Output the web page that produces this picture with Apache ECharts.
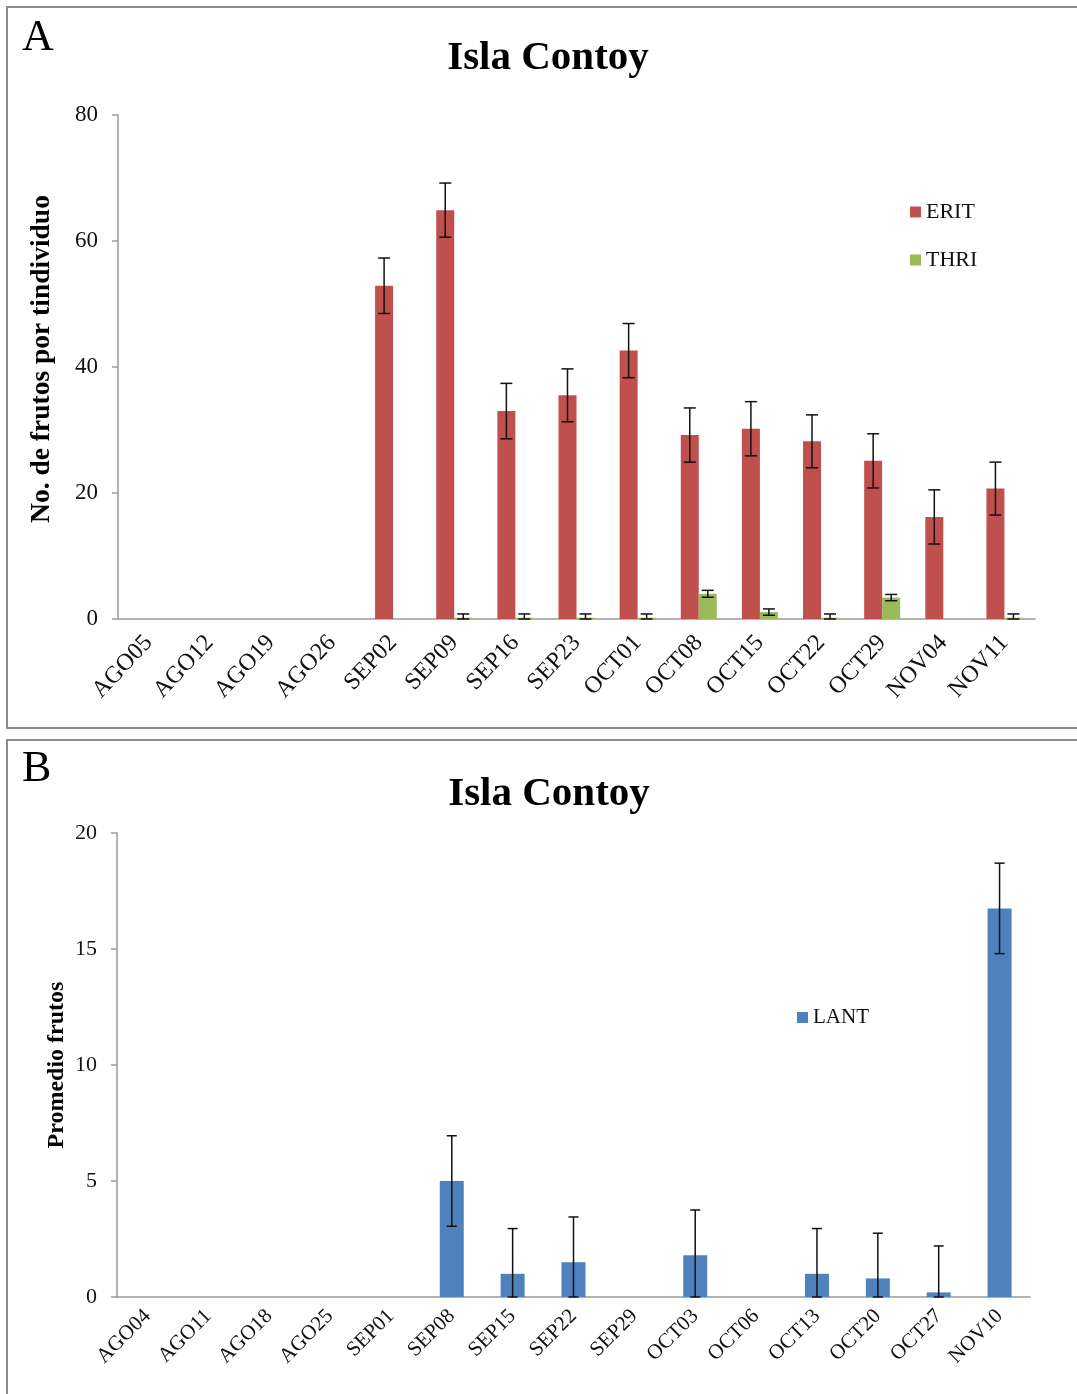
<!DOCTYPE html>
<html>
<head>
<meta charset="utf-8">
<script src="https://cdn.jsdelivr.net/npm/echarts@6/dist/echarts.min.js"></script>
<style>
html,body{margin:0;padding:0;background:#fff;}
#c{width:1077px;height:1394px;}
</style>
</head>
<body>
<div id="c"></div>
<script>
// ---- Panel A data ----
var catsA = ['AGO05','AGO12','AGO19','AGO26','SEP02','SEP09','SEP16','SEP23','OCT01','OCT08','OCT15','OCT22','OCT29','NOV04','NOV11'];
var erit    = [null,null,null,null,52.9,64.9,33.0,35.5,42.6,29.2,30.2,28.2,25.1,16.2,20.7];
var eritErr = [null,null,null,null,4.4,4.3,4.4,4.2,4.3,4.3,4.3,4.2,4.3,4.3,4.2];
var thri    = [null,null,null,null,null,0.2,0.2,0.2,0.2,4.0,1.1,0.2,3.4,null,0.2];
var thriErr = [null,null,null,null,null,0.6,0.6,0.6,0.6,0.55,0.5,0.6,0.5,null,0.6];
var ticksA = [0,20,40,60,80];

// ---- Panel B data ----
var catsB = ['AGO04','AGO11','AGO18','AGO25','SEP01','SEP08','SEP15','SEP22','SEP29','OCT03','OCT06','OCT13','OCT20','OCT27','NOV10'];
var lant    = [null,null,null,null,null,5.0,1.0,1.5,null,1.8,null,1.0,0.8,0.2,16.75];
var lantErr = [null,null,null,null,null,1.95,1.95,1.95,null,1.95,null,1.95,1.95,2.0,1.95];
var ticksB = [0,5,10,15,20];

var FONT = '"Liberation Serif", "Times New Roman", serif';
var RED = '#C0504D', GREEN = '#9BBB59', BLUE = '#4F81BD';
var AXIS = '#9a9a9a';

function errData(vals, errs){
  var out = [];
  for (var i = 0; i < vals.length; i++){
    if (vals[i] != null && errs[i] != null) out.push([i, vals[i], errs[i]]);
  }
  return out;
}

function errSeries(data, xi, yi, offset, cap){
  return {
    type: 'custom', xAxisIndex: xi, yAxisIndex: yi, z: 10, silent: true,
    data: data,
    renderItem: function(params, api){
      var i = api.value(0), v = api.value(1), e = api.value(2);
      var t = api.coord([i, v + e]);
      var b = api.coord([i, Math.max(0, v - e)]);
      var x = t[0] + offset;
      var st = {stroke: '#111', lineWidth: 1.5};
      return {type: 'group', children: [
        {type: 'line', shape: {x1: x, y1: t[1], x2: x, y2: b[1]}, style: st},
        {type: 'line', shape: {x1: x - cap/2, y1: t[1], x2: x + cap/2, y2: t[1]}, style: st},
        {type: 'line', shape: {x1: x - cap/2, y1: b[1], x2: x + cap/2, y2: b[1]}, style: st}
      ]};
    }
  };
}

function catAxis(cats, gi, rot, size, margin){
  return {
    type: 'category', gridIndex: gi, data: cats, boundaryGap: true,
    axisLine: {lineStyle: {color: AXIS, width: 1.5}},
    axisTick: {alignWithLabel: true, length: 6, lineStyle: {color: AXIS, width: 1.5}},
    axisLabel: {rotate: rot, interval: 0, margin: margin, color: '#111', fontFamily: FONT, fontSize: size}
  };
}
function valAxis(ticks, gi, size){
  return {
    type: 'value', gridIndex: gi, min: ticks[0], max: ticks[ticks.length-1], interval: ticks[1]-ticks[0],
    axisLine: {show: true, lineStyle: {color: AXIS, width: 1.5}},
    axisTick: {show: true, length: 6, lineStyle: {color: AXIS, width: 1.5}},
    splitLine: {show: false},
    axisLabel: {margin: 20, color: '#111', fontFamily: FONT, fontSize: size}
  };
}

var chart = echarts.init(document.getElementById('c'), null, {renderer: 'canvas'});
var option = {
  backgroundColor: '#fff',
  animation: false,
  grid: [
    {left: 118, top: 115, width: 917, height: 504},
    {left: 117, top: 833, width: 913, height: 464}
  ],
  xAxis: [catAxis(catsA, 0, 47, 24, 20), catAxis(catsB, 1, 45, 21, 16)],
  yAxis: [valAxis(ticksA, 0, 23), valAxis(ticksB, 1, 22)],
  legend: [
    {data: ['ERIT','THRI'], orient: 'vertical', left: 910, top: 201, padding: 0, itemWidth: 11, itemHeight: 11, itemGap: 26,
     icon: 'rect', textStyle: {fontFamily: FONT, fontSize: 22, color: '#111'}},
    {data: ['LANT'], orient: 'vertical', left: 797, top: 1007, padding: 0, itemWidth: 11, itemHeight: 11,
     icon: 'rect', textStyle: {fontFamily: FONT, fontSize: 21, color: '#111'}}
  ],
  graphic: [
    {type: 'rect', shape: {x: 7, y: 7, width: 1090, height: 721}, style: {fill: 'none', stroke: '#8c8c8c', lineWidth: 2}},
    {type: 'rect', shape: {x: 7, y: 740, width: 1090, height: 680}, style: {fill: 'none', stroke: '#8c8c8c', lineWidth: 2}},
    {type: 'text', x: 22, y: 38, style: {text: 'A', fontFamily: FONT, fontSize: 44, fill: '#000', align: 'left', verticalAlign: 'middle'}},
    {type: 'text', x: 22, y: 769, style: {text: 'B', fontFamily: FONT, fontSize: 44, fill: '#000', align: 'left', verticalAlign: 'middle'}},
    {type: 'text', x: 548, y: 58, style: {text: 'Isla Contoy', fontFamily: FONT, fontWeight: 'bold', fontSize: 41, fill: '#000', align: 'center', verticalAlign: 'middle'}},
    {type: 'text', x: 549, y: 794, style: {text: 'Isla Contoy', fontFamily: FONT, fontWeight: 'bold', fontSize: 41, fill: '#000', align: 'center', verticalAlign: 'middle'}},
    {type: 'text', x: 42, y: 359, rotation: Math.PI/2, style: {text: 'No. de frutos por tindividuo', fontFamily: FONT, fontWeight: 'bold', fontSize: 27.5, fill: '#000', align: 'center', verticalAlign: 'middle'}},
    {type: 'text', x: 57, y: 1065, rotation: Math.PI/2, style: {text: 'Promedio frutos', fontFamily: FONT, fontWeight: 'bold', fontSize: 24, fill: '#000', align: 'center', verticalAlign: 'middle'}}
  ],
  series: [
    {name: 'ERIT', type: 'bar', xAxisIndex: 0, yAxisIndex: 0, data: erit, barWidth: 18, barGap: '0%', itemStyle: {color: RED}},
    {name: 'THRI', type: 'bar', xAxisIndex: 0, yAxisIndex: 0, data: thri, barWidth: 18, barGap: '0%', itemStyle: {color: GREEN}},
    errSeries(errData(erit, eritErr), 0, 0, -9, 12),
    errSeries(errData(thri, thriErr), 0, 0, 9, 12),
    {name: 'LANT', type: 'bar', xAxisIndex: 1, yAxisIndex: 1, data: lant, barWidth: 24, itemStyle: {color: BLUE}},
    errSeries(errData(lant, lantErr), 1, 1, 0, 10)
  ]
};
chart.setOption(option);
</script>
</body>
</html>
